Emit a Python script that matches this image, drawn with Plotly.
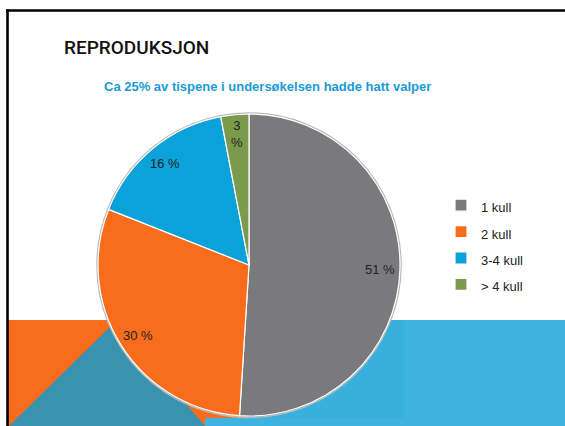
import math
import plotly.graph_objects as go

# ---- data ----
categories = ["1 kull", "2 kull", "3-4 kull", "> 4 kull"]
shares = [51, 30, 16, 3]
slice_colors = ["#7a7a7d", "#f96c1c", "#0aa2d9", "#7b9a4c"]
title_text = "REPRODUKSJON"
subtitle_text = "Ca 25% av tispene i undersøkelsen hadde hatt valper"

# ---- layout geometry (pixels) ----
W, H = 565, 426
CX, CY, R = 249, 265, 151


def px(x):
    return x / W


def py(y):
    return 1 - y / H


dom_x = [px(CX - R), px(CX + R)]
dom_y = [py(CY + R), py(CY - R)]

legend_labels = [f'<span style="font-size:13px">{c}</span>' for c in categories]

fig = go.Figure(
    go.Pie(
        labels=legend_labels,
        values=shares,
        sort=False,
        direction="clockwise",
        rotation=0,
        marker=dict(colors=slice_colors, line=dict(color="white", width=1.2)),
        textinfo="none",
        hoverinfo="skip",
        domain=dict(x=dom_x, y=dom_y),
    )
)

# percentage labels placed along each slice bisector
annotations = []
total = sum(shares)
cum = 0
for v in shares:
    theta = 2 * math.pi * (cum + v / 2) / total
    cum += v
    rr = 0.87 * R
    xl = CX + rr * math.sin(theta)
    yl = CY - rr * math.cos(theta)
    txt = f"{v} %" if v >= 5 else f"{v}<br>%"
    annotations.append(dict(
        x=px(xl), y=py(yl), xref="paper", yref="paper", text=txt,
        showarrow=False, xanchor="center", yanchor="middle",
        font=dict(family="Liberation Sans, Arial", size=13, color="#222222"),
    ))

annotations.append(dict(
    x=px(62), y=py(48), xref="paper", yref="paper", text=title_text,
    showarrow=False, xanchor="left", yanchor="middle",
    font=dict(family="Roboto", size=19, color="#111111", weight=500),
))
annotations.append(dict(
    x=px(267), y=py(87), xref="paper", yref="paper", text=f"<b>{subtitle_text}</b>",
    showarrow=False, xanchor="center", yanchor="middle",
    font=dict(family="Liberation Sans, Arial", size=13, color="#1b9ad5"),
))


def rect(x0, y0, x1, y1, color):
    return dict(type="rect", xref="paper", yref="paper", x0=px(x0), x1=px(x1),
                y0=py(y1), y1=py(y0), fillcolor=color, line=dict(width=0), layer="below")


shapes = [
    rect(8, 320, 249, 426, "#f96c1c"),
    rect(249, 320, 565, 426, "#38b0dd"),
    rect(404, 320, 565, 426, "#3eb3df"),
    rect(205, 418, 404, 426, "#3eb3df"),
    dict(type="path", xref="paper", yref="paper", layer="below",
         path=f"M{px(9)},{py(426)} L{px(115)},{py(322)} L{px(205)},{py(426)} Z",
         fillcolor="#3993b0", line=dict(width=0)),
    # soft outline around pie
    dict(type="circle", xref="paper", yref="paper", layer="below",
         x0=px(CX - R - 1), x1=px(CX + R + 1), y0=py(CY + R + 1.5), y1=py(CY - R - 1),
         fillcolor="rgba(0,0,0,0)", line=dict(color="#b9b9b9", width=1.5)),
    # slide frame
    dict(type="line", xref="paper", yref="paper", x0=px(7.5), x1=px(7.5), y0=py(9.5), y1=py(430),
         line=dict(color="black", width=2.6)),
    dict(type="line", xref="paper", yref="paper", x0=px(6.2), x1=px(570), y0=py(10.5), y1=py(10.5),
         line=dict(color="black", width=2.6)),
]

fig.update_layout(
    width=W, height=H, autosize=False,
    margin=dict(l=0, r=0, t=0, b=0),
    paper_bgcolor="white", plot_bgcolor="white",
    showlegend=True,
    legend=dict(
        x=px(441), xanchor="left", y=py(187), yanchor="top",
        font=dict(family="Liberation Sans, Arial", size=18, color="#222222"),
        bgcolor="rgba(0,0,0,0)", itemclick=False, itemdoubleclick=False,
    ),
    annotations=annotations,
    shapes=shapes,
)

fig.write_html(
    "out.html",
    config={"displayModeBar": False},
    post_script="document.body.style.margin='0';document.body.style.overflow='hidden';",
)
